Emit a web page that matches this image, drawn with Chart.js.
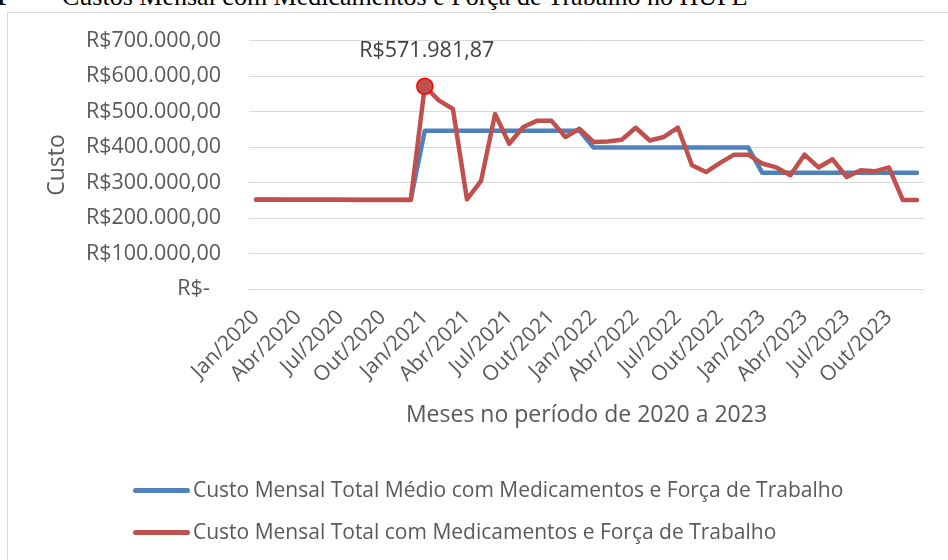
<!DOCTYPE html>
<html>
<head>
<meta charset="utf-8">
<script src="https://cdn.jsdelivr.net/npm/chart.js@4.4.1/dist/chart.umd.min.js"></script>
<style>
  body { margin: 0; width: 948px; height: 560px; overflow: hidden; background: #fff; position: relative; }
  #frame { position: absolute; left: 7px; top: 12px; width: 980px; height: 600px; border: 1px solid #d9d9d9; }
  #caption { position: absolute; top: -16px; left: 62px; font: 26px "Liberation Serif", serif; color: #000; white-space: nowrap; line-height: 26px; }
  #num { position: absolute; top: -16px; left: -6px; font: bold 26px "Liberation Serif", serif; line-height: 26px; }
  canvas { position: absolute; left: 0; top: 0; }
  .leg { position: absolute; left: 133px; font: 21px "Open Sans", sans-serif; color: #595959; white-space: nowrap; }
  .leg i { position: absolute; left: 0; width: 57px; height: 5px; border-radius: 3px; }
  .leg span { position: absolute; left: 60px; }
</style>
</head>
<body>
<div id="frame"></div>
<div id="num">1</div>
<div id="caption">Custos Mensal com Medicamentos e Força de Trabalho no HUPE</div>
<canvas id="chart" width="948" height="560"></canvas>
<div class="leg" id="leg0" style="top:475px"><i style="top:13px;background:#4f81bd"></i><span></span></div>
<div class="leg" id="leg1" style="top:517px"><i style="top:13px;background:#c0504d"></i><span></span></div>
<script>
const months = [
  'Jan/2020','Fev/2020','Mar/2020','Abr/2020','Mai/2020','Jun/2020','Jul/2020','Ago/2020','Set/2020','Out/2020','Nov/2020','Dez/2020',
  'Jan/2021','Fev/2021','Mar/2021','Abr/2021','Mai/2021','Jun/2021','Jul/2021','Ago/2021','Set/2021','Out/2021','Nov/2021','Dez/2021',
  'Jan/2022','Fev/2022','Mar/2022','Abr/2022','Mai/2022','Jun/2022','Jul/2022','Ago/2022','Set/2022','Out/2022','Nov/2022','Dez/2022',
  'Jan/2023','Fev/2023','Mar/2023','Abr/2023','Mai/2023','Jun/2023','Jul/2023','Ago/2023','Set/2023','Out/2023','Nov/2023','Dez/2023'
]

// custo mensal total (linha vermelha)
const custoMensal = [
  252500, 252800, 252100, 251600, 251800, 252000, 251500, 251400, 251200, 251300, 251000, 251200,
  571981.87, 532000, 508000, 253000, 305000, 494000, 410000, 457000, 475000, 475000, 429000, 452000,
  415000, 416000, 421000, 455000, 419000, 429000, 455000, 349000, 330000, 356000, 379000, 379000,
  354000, 343000, 321000, 379000, 343000, 366000, 316000, 335000, 332000, 343000, 251000, 251000
]

// media anual (linha azul)
const custoMedio = [
  251900, 251900, 251900, 251900, 251900, 251900, 251900, 251900, 251900, 251900, 251900, 251900,
  446800, 446800, 446800, 446800, 446800, 446800, 446800, 446800, 446800, 446800, 446800, 446800,
  399000, 399000, 399000, 399000, 399000, 399000, 399000, 399000, 399000, 399000, 399000, 399000,
  327800, 327800, 327800, 327800, 327800, 327800, 327800, 327800, 327800, 327800, 327800, 327800
]

const seriesNames = [
  'Custo Mensal Total Médio com Medicamentos e Força de Trabalho',
  'Custo Mensal Total com Medicamentos e Força de Trabalho'
]

const yTicks = [0, 100000, 200000, 300000, 400000, 500000, 600000, 700000]

function reais(v) {
  if (v === 0) return 'R$-  '
  let parts = v.toFixed(2).split('.')
  let int = parts[0].replace(/\B(?=(\d{3})+(?!\d))/g, '.')
  return 'R$' + int + ',' + parts[1]
}

document.querySelector('#leg0 span').textContent = seriesNames[0]
document.querySelector('#leg1 span').textContent = seriesNames[1]

const peak = custoMensal.indexOf(Math.max(...custoMensal))
const grey = '#595959'

const peakLabel = {
  id: 'peakLabel',
  afterDatasetsDraw(chart) {
    const pt = chart.getDatasetMeta(1).data[peak]
    const ctx = chart.ctx
    ctx.save()
    ctx.font = '21.5px "Open Sans"'
    ctx.fillStyle = '#404040'
    ctx.textAlign = 'center'
    ctx.textBaseline = 'middle'
    ctx.fillText(reais(custoMensal[peak]), pt.x + 2, pt.y - 35)
    ctx.restore()
  }
}

Chart.defaults.font.family = '"Open Sans", sans-serif'

new Chart(document.getElementById('chart'), {
  type: 'line',
  data: {
    labels: months,
    datasets: [{
      label: seriesNames[0],
      data: custoMedio,
      borderColor: '#4f81bd',
      borderWidth: 4.5,
      pointRadius: 0,
      borderCapStyle: 'round',
      borderJoinStyle: 'round',
      order: 1
    }, {
      label: seriesNames[1],
      data: custoMensal,
      borderColor: '#c0504d',
      borderWidth: 4.5,
      borderCapStyle: 'round',
      borderJoinStyle: 'round',
      pointRadius: c => c.dataIndex === peak ? 8 : 0,
      pointBackgroundColor: '#c0504d',
      pointBorderColor: '#ff0000',
      pointBorderWidth: 1.5,
      order: 0
    }]
  },
  options: {
    responsive: false,
    animation: false,
    devicePixelRatio: 1,
    layout: { padding: { top: 40, right: 24, bottom: 131, left: 0 } },
    plugins: { legend: { display: false }, tooltip: { enabled: false } },
    scales: {
      x: {
        offset: true,
        grid: { display: false },
        border: { display: false },
        ticks: {
          autoSkip: false,
          minRotation: 45,
          maxRotation: 45,
          color: grey,
          font: { size: 21 },
          padding: 8,
          callback: (v, i) => i % 3 === 0 ? months[i] : ''
        },
        title: { display: true, text: 'Meses no período de 2020 a 2023', color: grey, font: { size: 23 }, padding: { top: 0, bottom: 0 } },
        afterFit: s => { s.height = 140 }
      },
      y: {
        min: 0,
        max: 700000,
        grid: { color: '#d9d9d9', lineWidth: 1, drawTicks: false },
        border: { display: false },
        afterBuildTicks: s => { s.ticks = yTicks.map(v => ({ value: v })) },
        ticks: { color: grey, font: { size: 21.5 }, padding: 28, callback: v => reais(v) },
        title: { display: true, text: 'Custo', color: grey, font: { size: 23 }, padding: { top: 44, bottom: 0 } },
        afterFit: s => { s.width = 249 }
      }
    }
  },
  plugins: [peakLabel]
})
</script>
</body>
</html>
